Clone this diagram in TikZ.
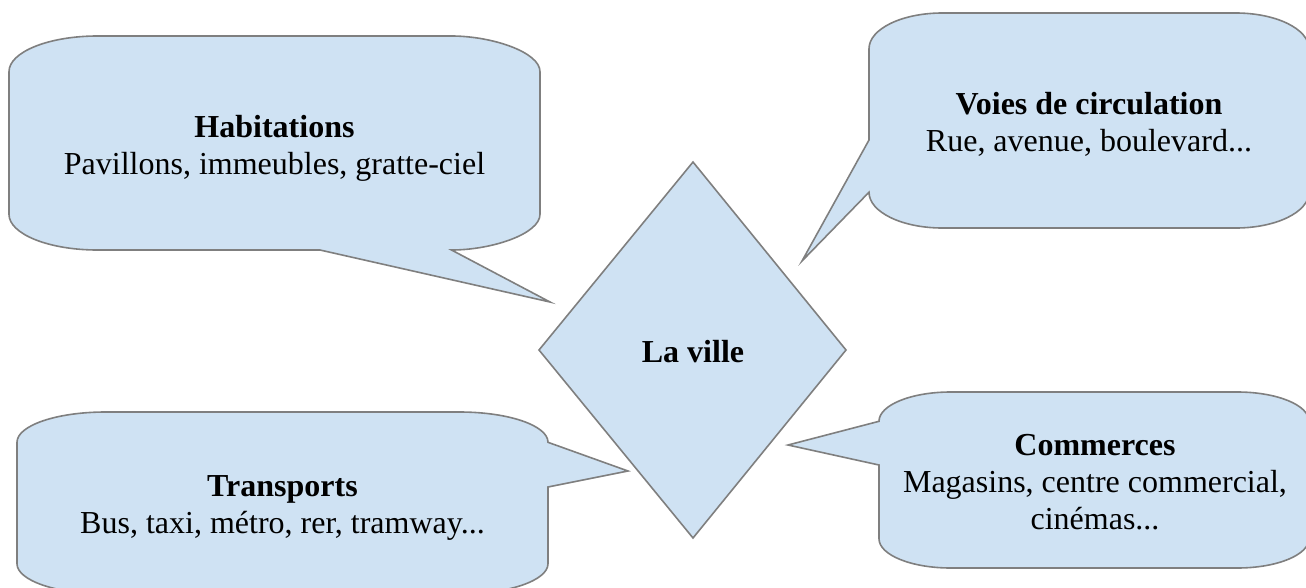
\documentclass[tikz,border=0pt]{standalone}
\usepackage{fontspec}
\setmainfont{Liberation Serif}
\definecolor{bubblefill}{HTML}{CFE2F3}
\definecolor{bubbleline}{HTML}{7F7F7F}
\tikzset{
  bubble/.style={fill=bubblefill, draw=bubbleline, line width=1.6pt, line join=miter},
  label/.style={align=center, inner sep=0pt, font=\fontsize{32}{37}\selectfont},
}
\begin{document}
\begin{tikzpicture}[x=1pt, y=-1pt]
\useasboundingbox (0,0) rectangle (1306,587);
\clip (0,0) rectangle (1306,587);
% central diamond
\draw[bubble] (693,162) -- (846,350) -- (693,538) -- (539,350) -- cycle;
\node[label] (ville) at (693,352) {\textbf{La ville}};
% Habitations
\draw[bubble] (9,71.7) .. controls (9,52) and (48.6,36) .. (97.5,36)
  -- (451.5,36) .. controls (491.6,36) and (540,52) .. (540,71.7)
  -- (540,214.3) .. controls (540,234) and (491.6,250) .. (451.5,250)
  -- (550,302) -- (320,250) -- (97.5,250) .. controls (48.6,250) and (9,234) .. (9,214.3) -- cycle;
\node[label] (hab) at (274.5,148) {\textbf{Habitations}\\Pavillons, immeubles, gratte-ciel};
% Voies de circulation
\draw[bubble] (869,48.8) .. controls (869,29) and (901.8,13) .. (942.3,13)
  -- (1235.7,13) .. controls (1276.2,13) and (1309,29) .. (1309,48.8)
  -- (1309,192.2) .. controls (1309,212) and (1276.2,228) .. (1235.7,228)
  -- (942.3,228) .. controls (901.8,228) and (869,212) .. (869,192.2)
  -- (802,261) -- (869,140) -- cycle;
\node[label] (voies) at (1089,124) {\textbf{Voies de circulation}\\Rue, avenue, boulevard...};
% Transports
\draw[bubble] (17,442.3) .. controls (17,425.5) and (56.6,412) .. (105.5,412)
  -- (459.5,412) .. controls (508.4,412) and (548,425.5) .. (548,442.3)
  -- (628,471) -- (548,487)
  -- (548,563.7) .. controls (548,580.5) and (508.4,594) .. (459.5,594)
  -- (105.5,594) .. controls (56.6,594) and (17,580.5) .. (17,563.7) -- cycle;
\node[label] (trans) at (282.5,508) {\textbf{Transports}\\Bus, taxi, métro, rer, tramway...};
% Commerces
\draw[bubble] (879,421.3) .. controls (879,405.1) and (911.1,392) .. (950.7,392)
  -- (1237.3,392) .. controls (1276.9,392) and (1309,405.1) .. (1309,421.3)
  -- (1309,538.7) .. controls (1309,554.9) and (1276.9,568) .. (1237.3,568)
  -- (950.7,568) .. controls (911.1,568) and (879,554.9) .. (879,538.7)
  -- (879,465) -- (788,445) -- cycle;
\node[label] (comm) at (1095,482) {\textbf{Commerces}\\Magasins, centre commercial,\\cinémas...};
\end{tikzpicture}
\end{document}
